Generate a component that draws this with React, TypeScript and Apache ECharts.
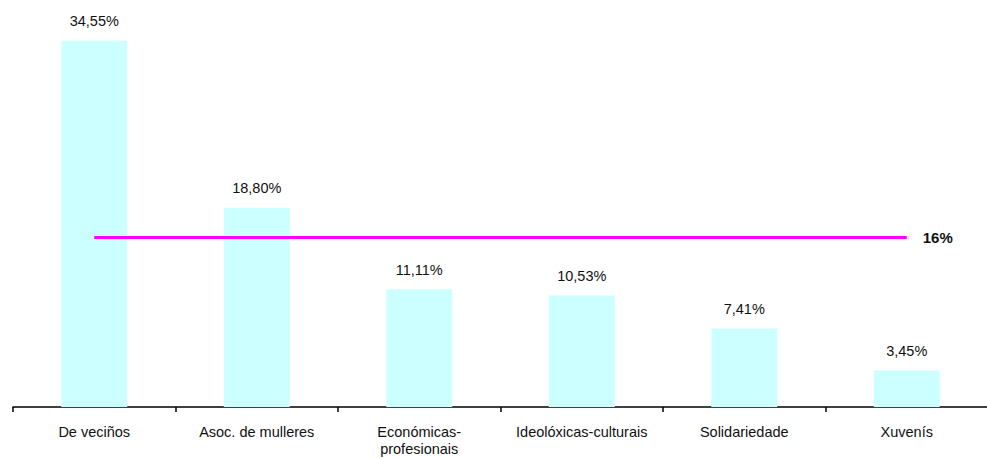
import React, { useEffect, useRef } from "react";
import * as echarts from "echarts";

const categories = [
  "De veciños",
  "Asoc. de mulleres",
  "Económicas-\nprofesionais",
  "Ideolóxicas-culturais",
  "Solidariedade",
  "Xuvenís",
];
const shares = [34.55, 18.8, 11.11, 10.53, 7.41, 3.45];
const averageLine = [16, 16, 16, 16, 16, 16];
const averageLabel = "16%";

const fmt = (v: number) => v.toFixed(2).replace(".", ",") + "%";

export default function App() {
  const ref = useRef<HTMLDivElement>(null);
  useEffect(() => {
    document.body.style.margin = "0";
    if (!ref.current) return;
    const chart = echarts.init(ref.current, undefined, { renderer: "svg" });
    chart.setOption({
      animation: false,
      textStyle: { fontFamily: "Liberation Sans, Arial, sans-serif" },
      grid: {
        left: 13,
        right: -1,
        top: 36,
        bottom: 52,
        containLabel: false,
        outerBoundsMode: "none",
      },
      xAxis: {
        type: "category",
        data: categories,
        axisLine: { lineStyle: { color: "#000", width: 1.5 } },
        axisTick: { show: true, length: 5, lineStyle: { color: "#000", width: 1.5 } },
        axisLabel: {
          color: "#111",
          fontSize: 14.5,
          margin: 16,
          lineHeight: 17,
          interval: 0,
        },
      },
      yAxis: {
        type: "value",
        min: 0,
        max: 35,
        show: false,
        splitLine: { show: false },
      },
      series: [
        {
          type: "bar",
          data: shares,
          barWidth: "40.6%",
          itemStyle: { color: "#CCFFFF" },
          label: {
            show: true,
            position: "top",
            distance: 12,
            color: "#111",
            fontSize: 14.5,
            formatter: (p: any) => fmt(p.value),
          },
        },
        {
          type: "line",
          data: averageLine,
          symbol: "none",
          lineStyle: { color: "#FF00FF", width: 3 },
          endLabel: {
            show: true,
            formatter: () => averageLabel,
            fontWeight: "bold",
            fontSize: 15,
            color: "#111",
            distance: 16,
          },
        },
      ],
    });
    return () => chart.dispose();
  }, []);
  return <div ref={ref} style={{ width: 987, height: 459 }} />;
}
